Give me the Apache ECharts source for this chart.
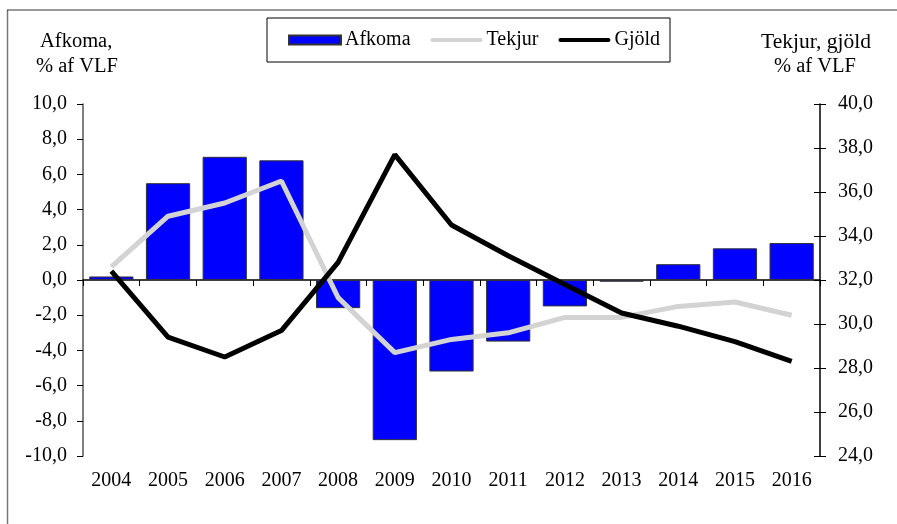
<!DOCTYPE html>
<html>
<head>
<meta charset="utf-8">
<script src="https://cdn.jsdelivr.net/npm/echarts@6/dist/echarts.min.js"></script>
<style>
  html, body { margin: 0; padding: 0; background: #fff; }
  #chart { width: 897px; height: 524px; }
</style>
</head>
<body>
<div id="chart"></div>
<script>
// Years on the category axis
const years = ['2004', '2005', '2006', '2007', '2008', '2009', '2010', '2011', '2012', '2013', '2014', '2015', '2016'];
// Afkoma (balance), % af VLF — left axis
const afkoma = [0.2, 5.5, 7.0, 6.8, -1.6, -9.1, -5.2, -3.5, -1.5, -0.1, 0.9, 1.8, 2.1];
// Tekjur (revenue), % af VLF — right axis
const tekjur = [32.6, 34.9, 35.5, 36.5, 31.2, 28.7, 29.3, 29.6, 30.3, 30.3, 30.8, 31.0, 30.4];
// Gjöld (expenditure), % af VLF — right axis
const gjold = [32.4, 29.4, 28.5, 29.7, 32.8, 37.7, 34.5, 33.1, 31.8, 30.5, 29.9, 29.2, 28.3];

const FONT = '"Liberation Serif", "Times New Roman", serif';
const fmt = v => v.toFixed(1).replace('.', ',');
// thick rounded stroke used as the legend key of the two lines
const LINE_ICON = 'path://M2,0H50A2,2,0,0,1,50,4H2A2,2,0,0,1,2,0Z';

const chart = echarts.init(document.getElementById('chart'), null, { renderer: 'canvas' });

chart.setOption({
  animation: false,
  backgroundColor: '#ffffff',
  textStyle: { fontFamily: FONT, color: '#000' },
  grid: { left: 83, right: 77, top: 104, bottom: 68, containLabel: false },
  legend: {
    left: 267,
    top: 18,
    orient: 'horizontal',
    padding: [12, 10, 12, 21],
    itemGap: 20,
    itemWidth: 52,
    itemHeight: 9,
    symbolKeepAspect: true,
    borderColor: '#000',
    borderWidth: 1,
    textStyle: { fontFamily: FONT, fontSize: 20, color: '#000', padding: [0, 0, 0, -1] },
    data: [
      { name: 'Afkoma', icon: 'rect' },
      { name: 'Tekjur', icon: LINE_ICON },
      { name: 'Gjöld', icon: LINE_ICON }
    ]
  },
  graphic: [
    { type: 'line', shape: { x1: 7.5, y1: 10, x2: 7.5, y2: 524 }, style: { stroke: '#777', lineWidth: 1.5 } },
    { type: 'line', shape: { x1: 7, y1: 10, x2: 897, y2: 10 }, style: { stroke: '#333', lineWidth: 1 } },
    { type: 'text', left: 40, top: 31, style: { text: 'Afkoma,', font: '20.5px ' + FONT, fill: '#000' } },
    { type: 'text', left: 36, top: 56, style: { text: '% af VLF', font: '20.5px ' + FONT, fill: '#000' } },
    { type: 'text', left: 761, top: 31, style: { text: 'Tekjur, gjöld', font: '21.5px ' + FONT, fill: '#000' } },
    { type: 'text', left: 774, top: 56, style: { text: '% af VLF', font: '20.5px ' + FONT, fill: '#000' } }
  ],
  xAxis: [
    {
      type: 'category',
      data: years,
      boundaryGap: true,
      axisLine: { onZero: true, lineStyle: { color: '#000', width: 1.5 } },
      axisTick: { show: true, length: 6, lineStyle: { color: '#000', width: 1 } },
      axisLabel: { show: false },
      splitLine: { show: false }
    },
    {
      type: 'category',
      data: years,
      position: 'bottom',
      boundaryGap: true,
      axisLine: { show: false, onZero: false },
      axisTick: { show: false },
      axisLabel: { show: true, margin: 15, fontFamily: FONT, fontSize: 20, color: '#000', interval: 0 },
      splitLine: { show: false }
    }
  ],
  yAxis: [
    {
      type: 'value',
      position: 'left',
      min: -10,
      max: 10,
      interval: 2,
      axisLine: { show: true, lineStyle: { color: '#555', width: 1.5 } },
      axisTick: { show: true, length: 6, lineStyle: { color: '#000' } },
      axisLabel: { margin: 16, fontFamily: FONT, fontSize: 20, color: '#000', formatter: fmt },
      splitLine: { show: false }
    },
    {
      type: 'value',
      position: 'right',
      min: 24,
      max: 40,
      interval: 2,
      axisLine: { show: true, lineStyle: { color: '#000', width: 1.5 } },
      axisTick: { show: true, length: 6, lineStyle: { color: '#000' } },
      axisLabel: { margin: 18, fontFamily: FONT, fontSize: 20, color: '#000', formatter: fmt },
      splitLine: { show: false }
    },
    {
      // inner half of the crossing ticks on the right axis
      type: 'value',
      position: 'right',
      min: 24,
      max: 40,
      interval: 2,
      axisLine: { show: false },
      axisTick: { show: true, inside: true, length: 6, lineStyle: { color: '#000' } },
      axisLabel: { show: false },
      splitLine: { show: false }
    }
  ],
  series: [
    {
      name: 'Afkoma',
      type: 'bar',
      xAxisIndex: 0,
      yAxisIndex: 0,
      data: afkoma,
      barCategoryGap: '22%',
      itemStyle: { color: '#0000ff', borderColor: '#333', borderWidth: 1 },
      z: 2
    },
    {
      name: 'Tekjur',
      type: 'line',
      xAxisIndex: 0,
      yAxisIndex: 1,
      data: tekjur,
      symbol: 'none',
      lineStyle: { color: '#d3d3d3', width: 5 },
      itemStyle: { color: '#d3d3d3' },
      z: 3
    },
    {
      name: 'Gjöld',
      type: 'line',
      xAxisIndex: 0,
      yAxisIndex: 1,
      data: gjold,
      symbol: 'none',
      lineStyle: { color: '#000', width: 5 },
      itemStyle: { color: '#000' },
      z: 4
    }
  ]
});
</script>
</body>
</html>
